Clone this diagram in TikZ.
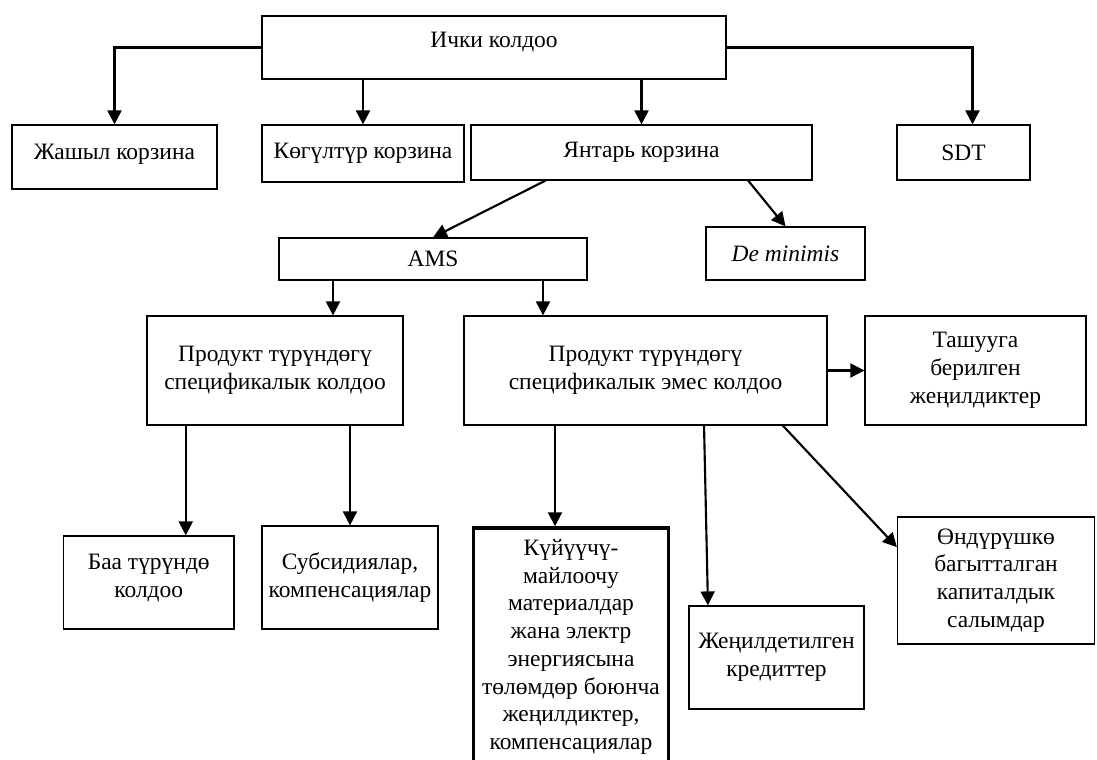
\documentclass[tikz,border=0pt]{standalone}
\usepackage{fontspec}
\setmainfont{Liberation Serif}
\usetikzlibrary{positioning,arrows.meta,calc}
\tikzstyle{arrow} = [-{Triangle[length=10.5pt,width=10.5pt]}, line width=1.6pt]
\tikzstyle{box} = [draw, line width=0.9pt, align=center, inner sep=0pt, font=\fontsize{17.6}{20.8}\selectfont]
\tikzstyle{heavybox} = [box, line width=2.6pt]

\begin{document}
\begin{tikzpicture}[x=0.75pt, y=-0.75pt]
    \useasboundingbox (0,0) rectangle (1097,760);

    % upper levels
    \node [box, minimum width=348pt, minimum height=47.25pt, text depth=11pt] (top) at (494,47.5) {Ички колдоо};
    \node [box, minimum width=153.75pt, minimum height=48pt, text depth=8.5pt] (zhashyl) at (114.5,157) {Жашыл корзина};
    \node [box, minimum width=151.5pt, minimum height=42.75pt] (kogul) at (363,153.5) {Көгүлтүр корзина};
    \node [box, minimum width=255.75pt, minimum height=41.25pt] (yantar) at (641.5,152.5) {Янтарь корзина};
    \node [box, minimum width=99.75pt, minimum height=41.25pt] (sdt) at (963.5,152.5) {SDT};
    \node [box, minimum width=231pt, minimum height=31.5pt] (ams) at (433,259) {AMS};
    \node [box, minimum width=119.25pt, minimum height=39.75pt] (demin) at (785.5,253.5) {\textit{De minimis}};

    % product level
    \node [box, minimum width=192pt, minimum height=81.75pt] (prodleft) at (275,370.5) {Продукт түрүндөгү\\спецификалык колдоо};
    \node [box, minimum width=272.25pt, minimum height=81.75pt] (prodright) at (645.5,370.5) {Продукт түрүндөгү\\спецификалык эмес колдоо};
    \node [box, minimum width=165.75pt, minimum height=81.75pt] (tashuu) at (975.5,370.5) {Ташууга\\берилген\\жеңилдиктер};

    % lower level
    \node [box, minimum width=127.9pt, minimum height=69.75pt, text depth=10pt] (baa) at (148.75,582.5) {Баа түрүндө\\колдоо};
    \node [box, minimum width=132pt, minimum height=77.25pt] (subs) at (350,577.5) {Субсидиялар,\\компенсациялар};
    \node [heavybox, minimum width=146.6pt, minimum height=178.5pt] (kuyuu) at (571,647) {Күйүүчү-\\майлоочу\\материалдар\\жана электр\\энергиясына\\төлөмдөр боюнча\\жеңилдиктер,\\компенсациялар};
    \node [box, minimum width=131.25pt, minimum height=77.25pt] (jen) at (776.5,657.5) {Жеңилдетилген\\кредиттер};
    \node [box, minimum width=147.75pt, minimum height=95.25pt] (ondur) at (996,580.5) {Өндүрүшкө\\багытталган\\капиталдык\\салымдар};

    \draw [arrow] (top.west) -| (zhashyl.north);
    \draw [arrow] (kogul.north |- top.south) -- (kogul.north);
    \draw [arrow] (yantar.north |- top.south) -- (yantar.north);
    \draw [arrow] (top.east) -| ([xshift=6.75pt]sdt.north);

    \draw [arrow] ([xshift=-72pt]yantar.south) -- (ams.north);
    \draw [arrow] ([xshift=80pt]yantar.south) -- (demin.north);

    \draw [arrow] ([xshift=-75pt]ams.south) -- ([xshift=-75pt]ams.south |- prodleft.north);
    \draw [arrow] ([xshift=82.5pt]ams.south) -- ([xshift=82.5pt]ams.south |- prodright.north);
    \draw [arrow] (prodright.east) -- (tashuu.west);

    \draw [arrow] ([xshift=27.75pt]baa.north |- prodleft.south) -- ([xshift=27.75pt]baa.north);
    \draw [arrow] (subs.north |- prodleft.south) -- (subs.north);
    \draw [arrow] ([xshift=-12pt]kuyuu.north |- prodright.south) -- ([xshift=-12pt]kuyuu.north);
    \draw [arrow] ([xshift=43.9pt]prodright.south) -- ([xshift=-51.4pt]jen.north);
    \draw [arrow] ([xshift=103pt]prodright.south) -- ([yshift=25pt]ondur.west);
\end{tikzpicture}
\end{document}
